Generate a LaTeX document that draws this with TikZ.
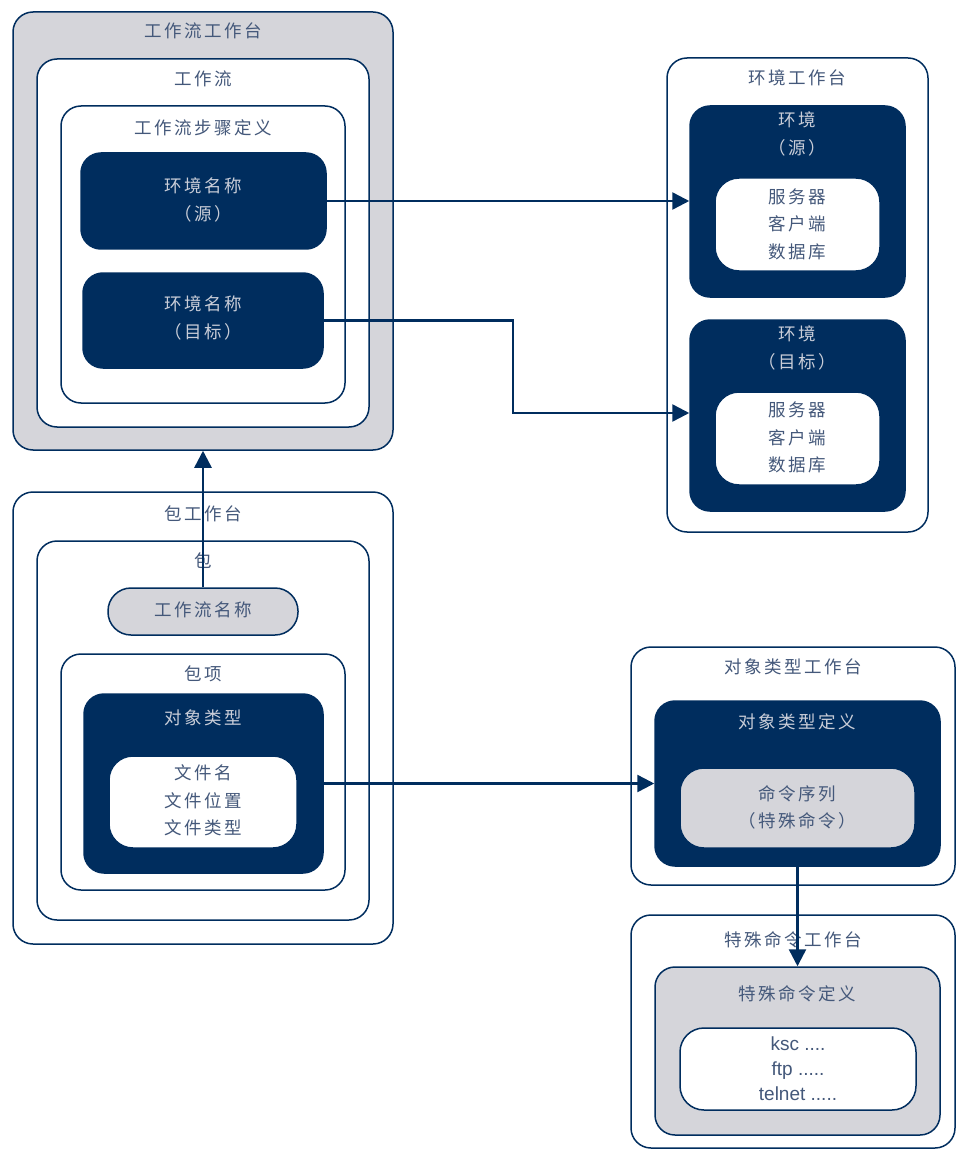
\documentclass[tikz,border=0pt]{standalone}
\usepackage{fontspec}
\setmainfont{Noto Sans CJK SC}[LetterSpace=14]
\newfontfamily\latinf{Liberation Sans}
\usetikzlibrary{arrows.meta}
\definecolor{navy}{HTML}{002D5E}
\definecolor{boxgray}{HTML}{D5D5DA}
\definecolor{txtdark}{HTML}{44587A}
\definecolor{txtlight}{HTML}{C9CDD8}
\tikzset{
  bx/.style={draw=navy, line width=1.5pt, rounded corners=20pt, inner sep=0pt},
  wbox/.style={bx, fill=white},
  gbox/.style={bx, fill=boxgray},
  dbox/.style={bx, fill=navy},
  ttl/.style={text=txtdark, font=\fontsize{17.5}{27.5}\selectfont, align=center, inner sep=0pt},
  ttll/.style={text=txtlight, font=\fontsize{17.5}{27.5}\selectfont, align=center, inner sep=0pt},
  arr/.style={draw=navy, line width=2.5pt, -{Triangle[length=17pt,width=17pt]}},
}
\begin{document}
\begin{tikzpicture}[x=1pt,y=-1pt]
\useasboundingbox (0,0) rectangle (956,1150);
% workflow workbench
\node[gbox, minimum width=380pt, minimum height=438pt] (wfwb) at (203,231) {};
\node[ttl] (wfwbt) at (203,31) {工作流工作台};
\node[wbox, minimum width=332pt, minimum height=368pt] (wf) at (203,243) {};
\node[ttl] (wft) at (203,79) {工作流};
\node[wbox, minimum width=284pt, minimum height=297pt] (wfs) at (203,254.5) {};
\node[ttl] (wfst) at (203,128) {工作流步骤定义};
\node[dbox, minimum width=245pt, minimum height=96pt] (ens) at (203.5,201) {};
\node[ttll] (enst) at (203.5,200) {环境名称\\（源）};
\node[dbox, minimum width=240pt, minimum height=95pt] (ent) at (203,320.5) {};
\node[ttll] (entt) at (203,318) {环境名称\\（目标）};
% environment workbench
\node[wbox, minimum width=261pt, minimum height=474pt] (ewb) at (797.5,295) {};
\node[ttl] (ewbt) at (797.5,78) {环境工作台};
\node[dbox, minimum width=215pt, minimum height=191pt] (es) at (797.5,201.5) {};
\node[ttll] (est) at (797.5,134) {环境\\（源）};
\node[wbox, rounded corners=24pt, minimum width=165pt, minimum height=93pt] (esi) at (797.5,224.5) {};
\node[ttl] (esit) at (797.5,224) {服务器\\客户端\\数据库};
\node[dbox, minimum width=215pt, minimum height=191pt] (et) at (797.5,415.5) {};
\node[ttll] (ett) at (797.5,348) {环境\\（目标）};
\node[wbox, rounded corners=24pt, minimum width=165pt, minimum height=93pt] (eti) at (797.5,438.5) {};
\node[ttl] (etit) at (797.5,437.5) {服务器\\客户端\\数据库};
% package workbench
\node[wbox, minimum width=380pt, minimum height=452pt] (pwb) at (203,718) {};
\node[ttl] (pwbt) at (203,514) {包工作台};
\node[wbox, minimum width=332pt, minimum height=379pt] (pk) at (203,730.5) {};
\node[ttl] (pkt) at (203,561) {包};
\node[bx, fill=boxgray, rounded corners=23pt, minimum width=190pt, minimum height=47pt] (pill) at (203,611.5) {};
\node[ttl] (pillt) at (203,610) {工作流名称};
\node[wbox, minimum width=284pt, minimum height=236pt] (pi) at (203,772) {};
\node[ttl] (pit) at (203,674) {包项};
\node[dbox, minimum width=239pt, minimum height=179pt] (ot) at (203.5,783.5) {};
\node[ttll] (ott) at (203.5,718) {对象类型};
\node[wbox, rounded corners=24pt, minimum width=188pt, minimum height=92pt] (oti) at (203,802) {};
\node[ttl] (otit) at (203,800.5) {文件名\\文件位置\\文件类型};
% object type workbench
\node[wbox, minimum width=324pt, minimum height=238pt] (owb) at (793,766) {};
\node[ttl] (owbt) at (793,667) {对象类型工作台};
\node[dbox, minimum width=285pt, minimum height=165pt] (od) at (797.5,783.5) {};
\node[ttll] (odt) at (797.5,722) {对象类型定义};
\node[gbox, rounded corners=24pt, minimum width=235pt, minimum height=80pt] (odi) at (797.5,808) {};
\node[ttl] (odit) at (797.5,807.5) {命令序列\\（特殊命令）};
% special command workbench
\node[wbox, minimum width=324pt, minimum height=233pt] (swb) at (793,1031.5) {};
\node[ttl] (swbt) at (793,940) {特殊命令工作台};
\node[gbox, minimum width=285pt, minimum height=168pt] (sd) at (797.5,1051) {};
\node[ttl] (sdt) at (797.5,994) {特殊命令定义};
\node[wbox, rounded corners=24pt, minimum width=236pt, minimum height=82pt] (sdi) at (798,1069) {};
\node[text=txtdark, font=\latinf\fontsize{19}{25}\selectfont, align=center, inner sep=0pt] (sdit) at (798,1069) {ksc ....\\ftp .....\\telnet .....};
% connectors
\coordinate (bend) at (513,413);
\draw[arr] (ens.east) -- (ens.east -| es.west);
\draw[arr] (ent.east) -| (bend) -- (bend -| et.west);
\draw[arr] (pill.north) -- (pill.north |- wfwb.south);
\draw[arr] (ot.east) -- (ot.east -| od.west);
\draw[arr] (od.south) -- (od.south |- sd.north);
\end{tikzpicture}
\end{document}
